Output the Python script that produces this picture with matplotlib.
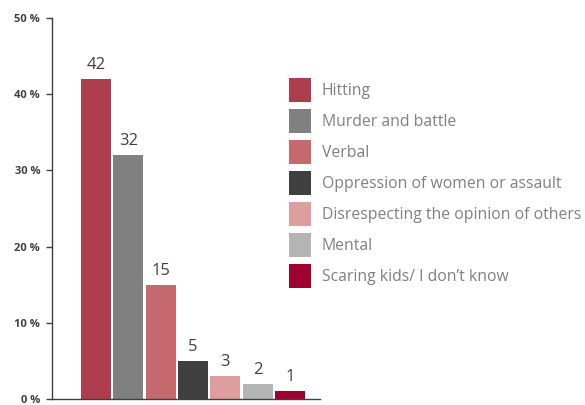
import matplotlib.pyplot as plt
from matplotlib.patches import Patch

categories = ["Hitting", "Murder and battle", "Verbal",
              "Oppression of women or assault",
              "Disrespecting the opinion of others", "Mental",
              "Scaring kids/ I don\u2019t know"]
values = [42, 32, 15, 5, 3, 2, 1]
colors = ["#AD3C4C", "#808080", "#C5696D", "#404040",
          "#DE9E9E", "#B4B4B4", "#A00030"]
yticks = [0, 10, 20, 30, 40, 50]
ytick_labels = ["0 %", "10 %", "20 %", "30 %", "40 %", "50 %"]

plt.rcParams['font.family'] = ['Open Sans', 'DejaVu Sans']

fig = plt.figure(figsize=(5.85, 4.05), dpi=100)
ax = fig.add_axes([52 / 585, 1 - 399 / 405, (320 - 52) / 585, (399 - 18) / 405])

x = list(range(len(values)))
ax.bar(x, values, width=0.93, color=colors)
for xi, v in zip(x, values):
    ax.text(xi, v + 0.8, str(v), ha="center", va="bottom",
            fontsize=12, color="#404040")

ax.set_xlim(-1.36, 6.93)
ax.set_ylim(0, 50)
ax.set_yticks(yticks)
ax.set_yticklabels(ytick_labels, fontsize=8, fontweight="bold", color="#404040")
ax.set_xticks([])
ax.tick_params(axis="y", length=4.5, width=1, color="#404040", pad=4)
for s in ["top", "right"]:
    ax.spines[s].set_visible(False)
for s in ["left", "bottom"]:
    ax.spines[s].set_color("#404040")
    ax.spines[s].set_linewidth(1)

handles = [Patch(facecolor=c) for c in colors]
fig.legend(handles, categories, loc="upper left",
           bbox_to_anchor=(289 / 585, 1 - 78 / 405), frameon=False,
           fontsize=11.3, labelcolor="#808080",
           handlelength=1.4, handleheight=2.0, handletextpad=0.7,
           labelspacing=0.43, borderpad=0, borderaxespad=0)

fig.savefig("out.png", dpi=100)
